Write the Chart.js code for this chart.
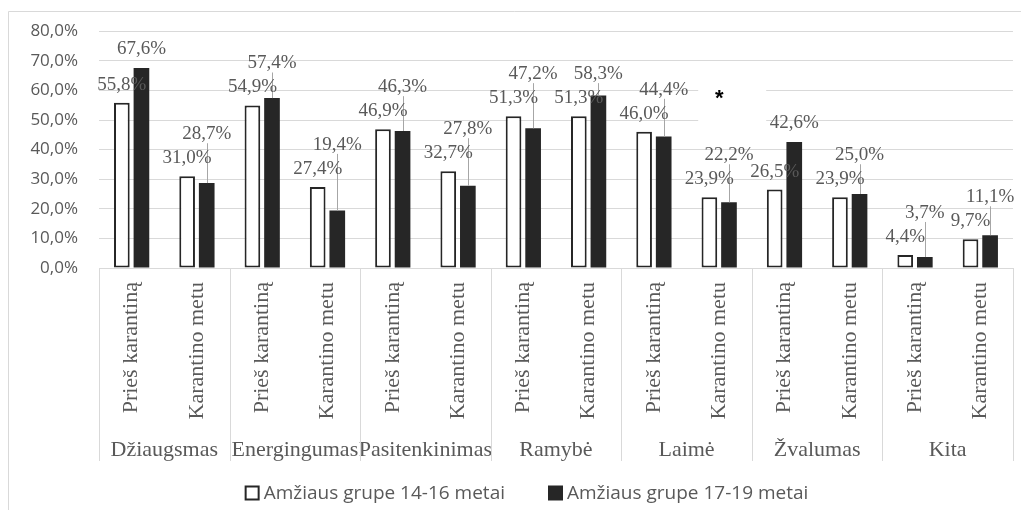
<!DOCTYPE html>
<html lang="lt">
<head>
<meta charset="utf-8">
<title>Emocijos prieš karantiną ir karantino metu</title>
<script src="https://cdn.jsdelivr.net/npm/chart.js@4.4.1/dist/chart.umd.min.js"></script>
<style>
  html, body { margin: 0; padding: 0; background: #ffffff; }
  #langas { position: relative; width: 1021px; height: 513px; }
</style>
</head>
<body>
<div id="langas"><canvas id="emocijosChart" width="1021" height="513"></canvas></div>
<script>
// emociju grupes (apatine x asies eilute)
var grupes = ['Džiaugsmas', 'Energingumas', 'Pasitenkinimas', 'Ramybė', 'Laimė', 'Žvalumas', 'Kita'];
// laikotarpiai kiekvienoje grupeje
var laikotarpiai = ['Prieš karantiną', 'Karantino metu'];
// procentai pagal amziaus grupes (eiliskumas: grupe -> laikotarpis)
var amzius1416 = [55.8, 31.0, 54.9, 27.4, 46.9, 32.7, 51.3, 51.3, 46.0, 23.9, 26.5, 23.9, 4.4, 9.7];
var amzius1719 = [67.6, 28.7, 57.4, 19.4, 46.3, 27.8, 47.2, 58.3, 44.4, 22.2, 42.6, 25.0, 3.7, 11.1];
var serijuPavadinimai = ['Amžiaus grupe 14-16 metai', 'Amžiaus grupe 17-19 metai'];
// stulpeliu poros, prie kuriu dedama zvaigzdute
var reiksmingi = [9];
// y asies padalos
var yPadalos = [0, 10, 20, 30, 40, 50, 60, 70, 80];

var pilka = '#595959';
var tinklelis = '#d9d9d9';
var juoda = '#262626';
var serifas = '"Liberation Serif", "Times New Roman", serif';
var sansas = '"Open Sans", "Liberation Sans", sans-serif';

// x asies etiketes: kiekvienai grupei abu laikotarpiai
var xEtiketes = [];
for (var g = 0; g < grupes.length; g++) {
    for (var l = 0; l < laikotarpiai.length; l++) {
        xEtiketes.push(laikotarpiai[l]);
    }
}

function procentai(v) {
    return v.toFixed(1).replace('.', ',') + '%';
}

// baltas fonas ir remelis aplink diagrama
var remelis = {
    id: 'remelis',
    beforeDraw: function (chart) {
        var ctx = chart.ctx;
        ctx.save();
        ctx.fillStyle = '#ffffff';
        ctx.fillRect(0, 0, chart.width, chart.height);
        ctx.strokeStyle = tinklelis;
        ctx.lineWidth = 1;
        ctx.beginPath();
        ctx.moveTo(8.5, 510);
        ctx.lineTo(8.5, 11.5);
        ctx.lineTo(chart.width, 11.5);
        ctx.stroke();
        ctx.restore();
    }
};

// vertikalios linijos tarp grupiu po x asimi
var skirtukai = {
    id: 'skirtukai',
    afterDraw: function (chart) {
        var x = chart.scales.x;
        var x2 = chart.scales.x2;
        var ctx = chart.ctx;
        var virsus = chart.chartArea.bottom;
        var apacia = x2.bottom - 12;
        ctx.save();
        ctx.strokeStyle = tinklelis;
        ctx.lineWidth = 1;
        for (var k = 0; k <= grupes.length; k++) {
            var px;
            if (k === 0) px = x.left;
            else if (k === grupes.length) px = x.right;
            else px = (x.getPixelForTick(2 * k - 1) + x.getPixelForTick(2 * k)) / 2;
            px = Math.round(px) + 0.5;
            ctx.beginPath();
            ctx.moveTo(px, virsus);
            ctx.lineTo(px, apacia);
            ctx.stroke();
        }
        ctx.restore();
    }
};

// zvaigzdute virs reiksmingo skirtumo (su baltu fonu per tinkleli)
var zvaigzdute = {
    id: 'zvaigzdute',
    beforeDatasetsDraw: function (chart) {
        var ctx = chart.ctx;
        var x = chart.scales.x;
        var y = chart.scales.y;
        ctx.save();
        reiksmingi.forEach(function (i) {
            var px = x.getPixelForTick(i);
            var py = y.getPixelForValue(58.5);
            ctx.fillStyle = '#ffffff';
            ctx.fillRect(px - 21, py - 9, 68, 37);
            ctx.fillStyle = '#000000';
            ctx.font = 'bold 22px "Liberation Sans", sans-serif';
            ctx.textAlign = 'center';
            ctx.textBaseline = 'middle';
            ctx.fillText('*', px, py + 4);
        });
        ctx.restore();
    }
};

// reiksmiu etiketes; jei juodo stulpelio etikete uzdengtu balto, ja keliam aukstyn su linija
var reiksmes = {
    id: 'reiksmes',
    afterDatasetsDraw: function (chart) {
        var ctx = chart.ctx;
        var balti = chart.getDatasetMeta(0).data;
        var juodi = chart.getDatasetMeta(1).data;
        ctx.save();
        ctx.font = '19px ' + serifas;
        ctx.textAlign = 'center';
        ctx.textBaseline = 'middle';
        ctx.strokeStyle = '#a6a6a6';
        ctx.lineWidth = 1;
        for (var i = 0; i < balti.length; i++) {
            var b = balti[i];
            var j = juodi[i];
            var yb = b.y - 18;
            var yj = j.y - 19;
            if (yj > yb - 22) {
                yj = yb - 24;
                ctx.beginPath();
                ctx.moveTo(Math.round(j.x) + 0.5, yj + 9);
                ctx.lineTo(Math.round(j.x) + 0.5, j.y);
                ctx.stroke();
            }
            ctx.fillStyle = pilka;
            ctx.fillText(procentai(amzius1416[i]), b.x, yb);
            ctx.fillText(procentai(amzius1719[i]), j.x, yj);
        }
        ctx.restore();
    }
};

// legenda apacioje
var legenda = {
    id: 'legenda',
    afterDraw: function (chart) {
        var ctx = chart.ctx;
        ctx.save();
        ctx.font = '19px ' + sansas;
        ctx.textBaseline = 'middle';
        ctx.textAlign = 'left';
        var dezute = 15, tarpas = 4, tarpTarp = 43;
        var plociai = serijuPavadinimai.map(function (t) { return ctx.measureText(t).width; });
        var viso = 0;
        plociai.forEach(function (w, i) { viso += dezute + tarpas + w + (i > 0 ? tarpTarp : 0); });
        var px = chart.width / 2 - viso / 2 + 16;
        var py = 493;
        for (var i = 0; i < serijuPavadinimai.length; i++) {
            if (i === 0) {
                ctx.fillStyle = '#ffffff';
                ctx.fillRect(px, py - 7.5, dezute, dezute);
                ctx.strokeStyle = juoda;
                ctx.lineWidth = 2;
                ctx.strokeRect(px + 1, py - 6.5, dezute - 2, dezute - 2);
            } else {
                ctx.fillStyle = juoda;
                ctx.fillRect(px, py - 7.5, dezute, dezute);
            }
            ctx.fillStyle = pilka;
            ctx.fillText(serijuPavadinimai[i], px + dezute + tarpas, py + 1);
            px += dezute + tarpas + plociai[i] + tarpTarp;
        }
        ctx.restore();
    }
};

var ctx = document.getElementById('emocijosChart').getContext('2d');
var emocijosChart = new Chart(ctx, {
    type: 'bar',
    data: {
        labels: xEtiketes,
        datasets: [{
            label: serijuPavadinimai[0],
            data: amzius1416,
            xAxisID: 'x',
            backgroundColor: '#ffffff',
            borderColor: juoda,
            borderWidth: 2,
            borderSkipped: false,
            categoryPercentage: 0.6,
            barPercentage: 0.8
        }, {
            label: serijuPavadinimai[1],
            data: amzius1719,
            xAxisID: 'x',
            backgroundColor: juoda,
            borderColor: juoda,
            borderWidth: 0,
            categoryPercentage: 0.6,
            barPercentage: 0.8
        }]
    },
    options: {
        responsive: false,
        animation: false,
        layout: { padding: { top: 29, left: 0, right: 8, bottom: 40 } },
        plugins: {
            legend: { display: false },
            tooltip: { enabled: false }
        },
        scales: {
            x: {
                type: 'category',
                offset: true,
                weight: 0,
                grid: { display: false, drawTicks: false },
                border: { display: true, color: tinklelis },
                ticks: {
                    autoSkip: false,
                    minRotation: 90,
                    maxRotation: 90,
                    padding: 14,
                    color: pilka,
                    font: { family: serifas, size: 22 }
                },
                afterFit: function (s) { s.height = 157; }
            },
            x2: {
                type: 'category',
                labels: grupes,
                position: 'bottom',
                offset: true,
                weight: 1,
                grid: { display: false, drawTicks: false },
                border: { display: false },
                ticks: {
                    autoSkip: false,
                    maxRotation: 0,
                    minRotation: 0,
                    padding: 12,
                    color: pilka,
                    font: { family: serifas, size: 22 }
                },
                afterFit: function (s) { s.height = 48; }
            },
            y: {
                min: 0,
                max: 80,
                grid: { color: tinklelis, drawTicks: false },
                border: { display: false },
                ticks: {
                    padding: 21,
                    color: pilka,
                    font: { family: sansas, size: 17 },
                    callback: function (v) { return procentai(v); }
                },
                afterBuildTicks: function (axis) {
                    axis.ticks = yPadalos.map(function (v) { return { value: v }; });
                },
                afterFit: function (s) { s.width = 99; }
            }
        }
    },
    plugins: [remelis, skirtukai, zvaigzdute, reiksmes, legenda]
});
</script>
</body>
</html>
